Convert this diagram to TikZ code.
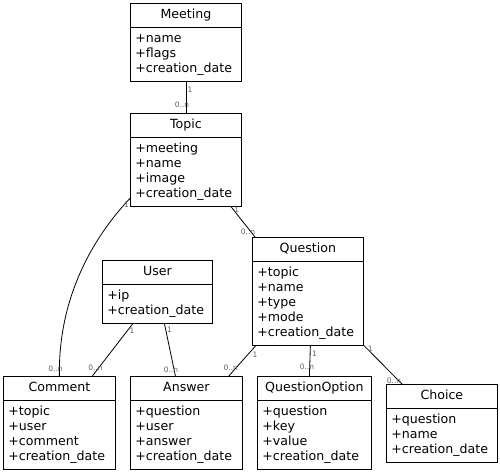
\documentclass[tikz,border=0pt]{standalone}
\usepackage{fontspec}
\setmainfont{DejaVu Sans}
\usetikzlibrary{shapes.multipart,positioning}

\begin{document}
\begin{tikzpicture}[x=1pt,y=-1pt,line width=0.8pt,
    class/.style={draw,rectangle split,rectangle split parts=2,anchor=north west,
      align=left,text width=#1,inner xsep=5pt,inner ysep=4pt,
      font=\fontsize{12.6}{15}\selectfont},
    mult/.style={font=\fontsize{7.5}{8}\selectfont,text=black!62,inner sep=0pt}]
      \useasboundingbox (0,0) rectangle (500,472);
      % classes
      \node[class=101pt] (meeting) at (130,3) {\makebox[\linewidth]{\strut Meeting}
        \nodepart{second}\strut+name\\+flags\\+creation\_date\strut};
      \node[class=101pt] (topic) at (130,113) {\makebox[\linewidth]{\strut Topic}
        \nodepart{second}\strut+meeting\\+name\\+image\\+creation\_date\strut};
      \node[class=100pt] (user) at (102,260) {\makebox[\linewidth]{\strut User}
        \nodepart{second}\strut+ip\\+creation\_date\strut};
      \node[class=101pt] (question) at (252,237) {\makebox[\linewidth]{\strut Question}
        \nodepart{second}\strut+topic\\+name\\+type\\+mode\\+creation\_date\strut};
      \node[class=102pt] (comment) at (3,376) {\makebox[\linewidth]{\strut Comment}
        \nodepart{second}\strut+topic\\+user\\+comment\\+creation\_date\strut};
      \node[class=102pt] (answer) at (130,376) {\makebox[\linewidth]{\strut Answer}
        \nodepart{second}\strut+question\\+user\\+answer\\+creation\_date\strut};
      \node[class=104pt] (option) at (257,376) {\makebox[\linewidth]{\strut QuestionOption}
        \nodepart{second}\strut+question\\+key\\+value\\+creation\_date\strut};
      \node[class=101pt] (choice) at (386,384) {\makebox[\linewidth]{\strut Choice}
        \nodepart{second}\strut+question\\+name\\+creation\_date\strut};
      % associations
      \draw (meeting.south) --
        node[mult,at start,xshift=4pt,yshift=-8pt] {1}
        node[mult,at end,xshift=-4pt,yshift=8.5pt] {0..n} (topic.north);
      \draw ([xshift=-11pt]topic.south east) --
        node[mult,at start,xshift=6pt,yshift=-3pt] {1}
        node[mult,at end,xshift=-7pt,yshift=5pt] {0..n} ([xshift=3pt]question.north west);
      \draw ([yshift=8pt]topic.south west) .. controls (100,230) and (58,290) .. (comment.north)
        node[mult,at start,xshift=-3.5pt,yshift=-6.5pt] {1}
        node[mult,at end,xshift=-4pt,yshift=7.5pt] {0..n};
      \draw ([xshift=31pt]user.south west) --
        node[mult,at start,xshift=-1pt,yshift=-7.5pt] {1}
        node[mult,at end,xshift=3pt,yshift=8pt] {0..n} ([xshift=33pt]comment.north);
      \draw ([xshift=7pt]user.south) --
        node[mult,at start,xshift=5pt,yshift=-6pt] {1}
        node[mult,at end,xshift=-4.5pt,yshift=6.5pt] {0..n} ([xshift=-11pt]answer.north);
      \draw ([xshift=4pt]question.south west) --
        node[mult,at start,xshift=-1pt,yshift=-9pt] {1}
        node[mult,at end,xshift=2pt,yshift=8pt] {0..n} ([xshift=-14pt]answer.north east);
      \draw ([xshift=2.5pt]question.south) --
        node[mult,at start,xshift=4pt,yshift=-8pt] {1}
        node[mult,at end,xshift=-2.5pt,yshift=9pt] {0..n} ([xshift=-5pt]option.north);
      \draw (question.south east) --
        node[mult,at start,xshift=6.5pt,yshift=-3pt] {1}
        node[mult,at end,xshift=-8pt,yshift=3pt] {0..n} ([xshift=16pt]choice.north west);
    \end{tikzpicture}
\end{document}
